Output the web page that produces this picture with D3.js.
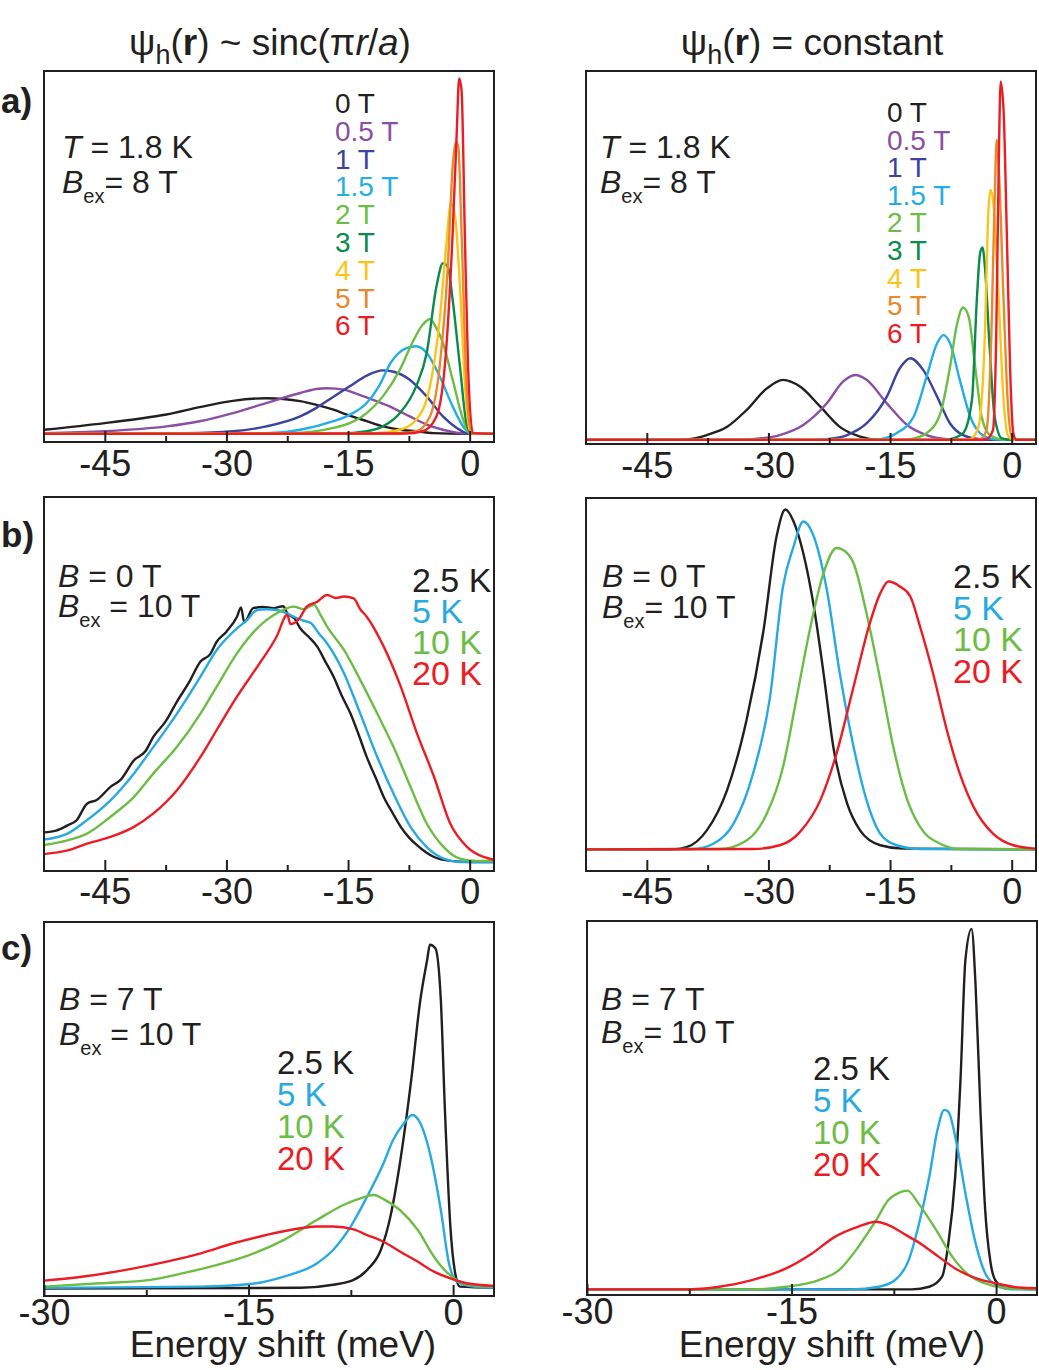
<!DOCTYPE html>
<html>
<head>
<meta charset="utf-8">
<script src="https://cdn.jsdelivr.net/npm/d3@7"></script>
<style>
  body { margin: 0; background: #fff; }
  svg text { font-family: 'Liberation Sans', Arial, Helvetica, sans-serif; fill: #231f20; }
</style>
</head>
<body>
<svg id="fig"></svg>
<script>
// ---- data (energy shift in meV, intensity in % of frame height) ----

// row a: field series 0 .. 6 T
const fieldLabels = ["0 T", "0.5 T", "1 T", "1.5 T", "2 T", "3 T", "4 T", "5 T", "6 T"];
const fieldColors = ["#231f20", "#8b4ea3", "#3a449d", "#23aee6", "#6cbd45", "#0a8a4b", "#fcc515", "#e8892a", "#ed1c24"];

const sincField = [
  [[-52.5,3.3],[-45,5.1],[-41,6.2],[-37.4,7.4],[-33.3,9.4],[-29.2,11.1],[-25.1,11.8],[-23,11.6],[-20.9,11],[-18.9,10],[-16.8,8.7],[-14.8,7.1],[-12.7,5.6],[-10.7,4.2],[-8.6,3.3],[-6.6,2.9],[-4.5,2.4],[-0.4,2.2],[3,2.2]],
  [[-52.5,2.4],[-45,2.9],[-37.4,4.2],[-33.3,5.6],[-29.2,7.8],[-25.1,10.5],[-20.9,13.2],[-18.9,14.3],[-17.6,14.5],[-15.5,14.1],[-13.6,12.7],[-11.5,11],[-9.5,9.2],[-7.4,6.9],[-5.3,4.7],[-3.3,3.3],[-1.2,2.4],[0,2.2],[3,2.2]],
  [[-52.5,2.2],[-35,2.4],[-29.2,2.9],[-25.1,4.2],[-20.9,6.9],[-18.9,9.2],[-16.8,12.2],[-14.8,15],[-12.7,17.9],[-10.7,19.3],[-9.5,19],[-7.4,16.8],[-5.3,12.3],[-3.3,6.9],[-1.6,3.8],[-0.4,2.4],[0.5,2.2],[3,2.2]],
  [[-52.5,2.2],[-25,2.4],[-20.9,3.3],[-16.8,5.6],[-14.8,7.3],[-12.7,10.5],[-11.2,15],[-9.7,21.5],[-7.8,25.3],[-6.6,25.8],[-5.3,24],[-3.7,17.7],[-2.1,9.6],[-0.8,4.2],[0,2.4],[0.6,2.2],[3,2.2]],
  [[-52.5,2.2],[-22,2.4],[-16.8,3.8],[-14.8,5.1],[-12.7,7.8],[-10.7,12.3],[-8.6,19.5],[-7,27.1],[-5.8,31.6],[-4.9,33.1],[-4.1,30.7],[-3.3,26.7],[-2.1,16.8],[-0.8,6],[0,2.4],[0.6,2.2],[3,2.2]],
  [[-52.5,2.2],[-16,2.3],[-12.7,2.9],[-10.7,4.2],[-8.6,7.8],[-6.6,15],[-5.3,24],[-4.1,41.9],[-3.3,48.2],[-2.7,47.3],[-2.1,38.3],[-1.2,20.4],[-0.4,5.1],[0.2,2.4],[3,2.2]],
  [[-52.5,2.2],[-12,2.3],[-8.6,3.3],[-6.6,6],[-4.9,15],[-3.7,32.9],[-2.9,52.7],[-2.3,64.4],[-1.8,60.8],[-1.2,41.9],[-0.6,15.9],[0,3.3],[0.5,2.2],[3,2.2]],
  [[-52.5,2.2],[-9,2.3],[-6.6,2.9],[-4.9,6.9],[-3.7,20.4],[-2.7,47.3],[-2.1,74.2],[-1.7,81],[-1.4,79.6],[-1,56.3],[-0.4,15.9],[0.2,2.4],[3,2.2]],
  [[-52.5,2.2],[-8,2.3],[-5.8,2.9],[-4.1,6.9],[-2.9,24.9],[-2.1,56.3],[-1.6,83.2],[-1.3,98],[-1,94.8],[-0.6,56.3],[-0.2,20.4],[0.4,2.4],[3,2.2]]
];

const constField = [
  [[-52.5,1.1],[-42,1.1],[-40.1,1.25],[-37.6,2.4],[-35.1,4.6],[-32.7,9.1],[-30.2,14.9],[-28.2,17.2],[-26.1,15.4],[-23.6,10],[-21.2,4.6],[-18.7,2],[-16.2,1.1],[3,1.1]],
  [[-52.5,1.1],[-34,1.1],[-31.9,1.3],[-28.6,2.4],[-25.7,5.1],[-22.8,10.9],[-20.8,16.7],[-19.3,18.5],[-17.9,17.2],[-15.4,10.9],[-12.9,5.1],[-10.5,2.4],[-8,1.3],[-6,1.1],[3,1.1]],
  [[-52.5,1.1],[-24,1.1],[-22.8,1.3],[-20.3,2.4],[-17.9,5.5],[-15.4,12.7],[-13.8,20.3],[-12.5,23],[-10.9,19.8],[-9.2,12.7],[-7.6,5.5],[-6,2.4],[-3.9,1.3],[-2,1.1],[3,1.1]],
  [[-52.5,1.1],[-17,1.1],[-16.2,1.3],[-14.2,2.9],[-12.1,7.3],[-10.5,18],[-9.2,27],[-8.4,29.2],[-7.6,27],[-6.4,17.2],[-5.1,7.3],[-3.9,2.9],[-2.3,1.3],[-1,1.1],[3,1.1]],
  [[-52.5,1.1],[-13.5,1.1],[-12.5,1.3],[-10.5,2.9],[-8.8,8.2],[-7.6,20.7],[-6.8,31.5],[-6,36.6],[-5.3,34.1],[-4.5,20.7],[-3.7,7.3],[-2.7,2.4],[-1.4,1.3],[0,1.1],[3,1.1]],
  [[-52.5,1.1],[-8.5,1.1],[-7.6,1.3],[-6,2.9],[-4.9,11.8],[-4.3,38.6],[-3.9,51.1],[-3.6,52.7],[-3.3,47.5],[-2.7,25.2],[-2.1,7.3],[-1.2,1.5],[0,1.1],[3,1.1]],
  [[-52.5,1.1],[-6,1.1],[-5.1,1.3],[-4.1,4.6],[-3.3,29.7],[-2.9,61],[-2.6,68.1],[-2.2,63.5],[-1.6,38.6],[-1,11.8],[-0.4,2],[0.3,1.1],[3,1.1]],
  [[-52.5,1.1],[-4.8,1.1],[-3.9,1.3],[-3.1,3.8],[-2.5,29.7],[-2.1,65.4],[-1.85,81.5],[-1.6,74.4],[-1,38.6],[-0.5,11.8],[0,2],[0.5,1.1],[3,1.1]],
  [[-52.5,1.1],[-4,1.1],[-3.1,1.3],[-2.3,3.8],[-1.9,29.7],[-1.6,74.4],[-1.36,97.1],[-1,89.5],[-0.6,56.5],[-0.2,20.7],[0.2,2.9],[0.6,1.1],[3,1.1]]
];

// rows b, c: temperature series
const tempLabels = ["2.5 K", "5 K", "10 K", "20 K"];
const tempColors = ["#231f20", "#27aae1", "#6cbd45", "#ed1c24"];

const sincZeroB = [
  [[-52.6,10.3],[-51,10.8],[-49.6,12.2],[-48.5,13.5],[-47.2,18],[-46,19],[-44.3,22.5],[-43,24.5],[-41.4,29.6],[-40,32],[-39,35.9],[-37.5,40],[-36.1,45.3],[-34.6,50.5],[-33.2,56],[-32,58],[-31.2,61.3],[-30,64],[-28.7,68],[-28.2,70.5],[-27.8,66.5],[-26.7,70.3],[-25.5,70.6],[-24.2,70.3],[-23,70.8],[-22.5,68.9],[-21.6,67.5],[-20.9,64.9],[-19.8,62.5],[-18.8,60],[-17.8,56],[-16.8,52],[-15.8,47],[-14.7,42.1],[-13.7,36.5],[-12.7,30.5],[-11.6,25],[-10.6,19.8],[-9.5,15.5],[-8.5,11.8],[-7.5,9],[-6.5,6.9],[-5.4,5],[-4.4,3.75],[-2.4,2.7],[0,2.4],[3,2.4]],
  [[-52.6,8.4],[-49.6,10],[-47.2,13.6],[-44.3,18.9],[-41.4,26.1],[-39,33.2],[-36.1,42.1],[-33.2,52],[-31.2,59.1],[-28.7,64.9],[-27.5,67],[-26.2,69.8],[-25,70],[-23.8,69.8],[-22.7,69],[-21.7,68],[-20.6,67],[-19.6,66.3],[-18.6,63.5],[-17.6,60.9],[-15.5,52.9],[-13.5,42.1],[-11.4,30.5],[-9.4,20.7],[-7.3,11.8],[-5.3,6.4],[-3.2,3.3],[-1.2,2.4],[3,2.4]],
  [[-52.6,6.9],[-49.6,8.2],[-47.2,10],[-44.3,14.5],[-41.4,19.8],[-39,26.1],[-36.1,33.2],[-33.2,42.1],[-31.2,49.3],[-28.7,58.2],[-26.2,64.9],[-23.8,68.9],[-21.7,70.7],[-20.5,70],[-19.2,71.2],[-18.4,68.5],[-17.6,65.4],[-15.5,59.1],[-13.5,51.1],[-11.4,42.1],[-9.4,33.2],[-7.3,22.5],[-5.3,12.7],[-3.2,6.4],[-1.2,3.3],[0.9,2.7],[3,2.7]],
  [[-52.6,4.5],[-49.6,5.5],[-47.2,7.3],[-44.3,9.1],[-41.4,11.8],[-39,15.4],[-36.1,21.6],[-33.2,30.5],[-31.2,37.7],[-28.7,46.6],[-26.2,54.6],[-23.8,62.7],[-22.5,68.5],[-22.1,66],[-21,67.5],[-20.1,70.7],[-18.8,72],[-17.6,73.8],[-16.5,73],[-15.5,73.4],[-14.3,72.9],[-13.5,70],[-12.7,68],[-10.6,60],[-8.5,49.3],[-6.5,36.8],[-4.4,25.2],[-2.4,12.7],[-0.3,6.4],[1.7,3.75],[3,3]]
];

const constZeroB = [
  [[-52.5,5.8],[-42,5.8],[-40.1,6.4],[-37.6,10.9],[-35.1,21.7],[-32.7,40.5],[-30.6,64.6],[-29,89.7],[-27.9,96.9],[-26.9,93.7],[-25.7,85.2],[-24.4,70.9],[-23.2,53],[-22,33.3],[-20.3,18.1],[-18.7,10.9],[-16.2,6.9],[-13.4,6],[3,5.8]],
  [[-52.5,5.8],[-39.3,5.9],[-36.8,7.3],[-34.3,12.7],[-31.9,26.1],[-29.8,46.7],[-28.2,76.3],[-26.9,87],[-25.7,93.7],[-24.5,90.2],[-22.8,75.4],[-21.2,53],[-19.5,33.3],[-17.9,19],[-16.2,10],[-14.2,6.9],[-11.3,5.9],[3,5.8]],
  [[-52.5,5.8],[-36,5.9],[-32.7,8.2],[-30.2,15.4],[-28.2,27.9],[-26.5,46.7],[-24.9,64.6],[-23.2,79.9],[-21.6,86.6],[-20.8,86.1],[-19.5,82.5],[-17.9,69.1],[-16.2,51.2],[-14.6,33.3],[-13,19.9],[-11.3,11.8],[-8.8,7.3],[-6.4,5.9],[3,5.8]],
  [[-52.5,5.8],[-31.9,5.9],[-28.6,6.9],[-26.1,10.5],[-23.6,19],[-21.6,31.5],[-19.5,49.4],[-17.5,66.4],[-16.2,74.5],[-15.2,77.6],[-13.8,76.3],[-12.5,73.6],[-11.3,65.5],[-9.7,53],[-8,37.8],[-6.4,26.1],[-4.7,17.2],[-2.3,10],[0.2,6.9],[3,6]]
];

const sincSevenC = [
  [[-30,2],[-11.2,2.2],[-8.8,3],[-7.3,4.3],[-6.3,7],[-5.3,12.3],[-4.6,21.2],[-3.9,35.5],[-3.1,56.9],[-2.4,79.2],[-1.9,89.9],[-1.7,93.9],[-1.3,93],[-0.9,79.2],[-0.6,49.8],[-0.2,18.6],[0.2,5.2],[0.5,2.5],[3,2.2]],
  [[-30,2.2],[-18.5,2.5],[-14.9,3.2],[-12.4,5.2],[-10,8.7],[-8.8,12.3],[-7.5,18.6],[-6.3,26.6],[-5.1,35.5],[-4.4,41.7],[-3.6,46.2],[-3,48.4],[-2.4,46.2],[-1.7,38.2],[-0.9,23],[-0.3,8.7],[0.3,3.8],[1.5,2.5],[3,2.2]],
  [[-30,2.5],[-25.9,3.4],[-22.2,4.3],[-19.8,6.1],[-17.3,8.3],[-14.9,11],[-12.4,15],[-10,20.3],[-8,24.4],[-6.8,26.1],[-5.8,27],[-5.1,25.9],[-3.9,23],[-2.6,17.7],[-1.4,10.5],[-0.4,6.1],[0.5,3.8],[1.8,2.7],[3,2.5]],
  [[-30,4.1],[-27.1,5.2],[-23.4,7.4],[-21,9.2],[-18.5,11.4],[-16.1,14.1],[-13.7,16.3],[-11.2,18.1],[-10,18.6],[-8.8,18.6],[-7.3,17.8],[-6.3,16.3],[-5.1,14.5],[-3.9,11.9],[-2.6,9.2],[-1.4,6.5],[-0.2,4.7],[1,3.4],[3,2.7]]
];

const constSevenC = [
  [[-30,1.5],[-6.2,1.5],[-4.9,2.2],[-3.96,4.9],[-3.5,13.8],[-3,31.6],[-2.6,58.4],[-2.25,89.6],[-1.8,97.9],[-1.5,82.4],[-1.15,49.5],[-0.8,22.7],[-0.4,8.5],[0,3.6],[0.7,1.8],[3,1.5]],
  [[-30,1.5],[-10.6,1.5],[-8.6,2.2],[-7.4,4],[-6.4,9.4],[-5.7,18.3],[-4.9,31.6],[-4.3,44.1],[-3.8,49.5],[-3.5,49],[-2.9,40.6],[-2.25,27.2],[-1.5,13.8],[-0.8,5.8],[0,2.7],[1.2,1.5],[3,1.5]],
  [[-30,1.5],[-17.9,1.5],[-15.4,2.2],[-13,4],[-11.5,6.7],[-10.1,12.9],[-8.8,20],[-7.9,25.4],[-7.1,27.4],[-6.5,27.9],[-5.7,24.5],[-4.4,17.4],[-3.2,10.2],[-2,5.3],[-0.8,3.1],[0.4,2],[3,1.5]],
  [[-30,1.5],[-22.8,1.5],[-20.3,2.2],[-17.9,4],[-15.4,7.1],[-13.5,11.1],[-11.8,15.6],[-10.1,18.3],[-8.8,19.6],[-7.9,18.7],[-6.6,16],[-5.4,13.4],[-4.2,10.2],[-3,7.1],[-1.5,4.5],[0,3.1],[1.7,2],[3,1.8]]
];

const wideTicks = [-45, -30, -15, 0];
const wideMinor = [-37.5, -22.5, -7.5];
const narrowTicks = [-30, -15, 0];
const narrowMinor = [-22.5, -7.5];

// ---- drawing ----
const W = 1039, H = 1370;
const svg = d3.select("#fig").attr("width", W).attr("height", H);
const ink = "#231f20";

const panels = [
  { x0: 44, y0: 71, h: 371, domain: [-52.5, 3], major: wideTicks, minor: wideMinor, pad: 8,
    series: sincField, colors: fieldColors, labels: fieldLabels,
    legend: { x: 335, y: 113, step: 27.8, size: 28 },
    notes: [["T", "", " = 1.8 K", 62, 158], ["B", "ex", "= 8 T", 62, 193]] },
  { x0: 586, y0: 71, h: 373, domain: [-52.5, 3], major: wideTicks, minor: wideMinor, pad: 8,
    series: constField, colors: fieldColors, labels: fieldLabels,
    legend: { x: 887, y: 122, step: 27.6, size: 28 },
    notes: [["T", "", " = 1.8 K", 600, 158], ["B", "ex", "= 8 T", 600, 193]] },
  { x0: 44, y0: 497, h: 374, domain: [-52.5, 3], major: wideTicks, minor: wideMinor, pad: 7,
    series: sincZeroB, colors: tempColors, labels: tempLabels,
    legend: { x: 412, y: 592, step: 31, size: 34 },
    notes: [["B", "", " = 0 T", 58, 587], ["B", "ex", " = 10 T", 58, 617]] },
  { x0: 586, y0: 498, h: 373, domain: [-52.5, 3], major: wideTicks, minor: wideMinor, pad: 7,
    series: constZeroB, colors: tempColors, labels: tempLabels,
    legend: { x: 953, y: 588, step: 31.7, size: 34 },
    notes: [["B", "", " = 0 T", 602, 587], ["B", "ex", "= 10 T", 602, 618]] },
  { x0: 44, y0: 922, h: 374, domain: [-30, 3], major: narrowTicks, minor: narrowMinor, pad: 3,
    series: sincSevenC, colors: tempColors, labels: tempLabels,
    legend: { x: 277, y: 1074, step: 32, size: 33 },
    notes: [["B", "", " = 7 T", 59, 1010], ["B", "ex", " = 10 T", 59, 1045]] },
  { x0: 587, y0: 921, h: 374, domain: [-30, 3], major: narrowTicks, minor: narrowMinor, pad: 3,
    series: constSevenC, colors: tempColors, labels: tempLabels,
    legend: { x: 813, y: 1080, step: 32, size: 33 },
    notes: [["B", "", " = 7 T", 601, 1010], ["B", "ex", "= 10 T", 601, 1043]] }
];

panels.forEach((p, i) => {
  const w = 450;
  const x = d3.scaleLinear().domain(p.domain).range([p.x0, p.x0 + w]);
  const y = d3.scaleLinear().domain([0, 100]).range([p.y0 + p.h, p.y0]);
  const g = svg.append("g");

  g.append("clipPath").attr("id", "clip" + i)
    .append("rect").attr("x", p.x0).attr("y", p.y0).attr("width", w).attr("height", p.h);

  const line = d3.line().x(d => x(d[0])).y(d => y(d[1])).curve(d3.curveMonotoneX);
  g.append("g").attr("clip-path", `url(#clip${i})`)
    .selectAll("path").data(p.series).join("path")
    .attr("d", line)
    .attr("fill", "none")
    .attr("stroke", (d, k) => p.colors[k])
    .attr("stroke-width", 2.4)
    .attr("stroke-linejoin", "round");

  // inward ticks on the bottom frame
  const bottom = p.y0 + p.h;
  g.append("g").attr("transform", `translate(0,${bottom})`)
    .call(d3.axisTop(x).tickValues(p.major).tickSize(11).tickFormat(""))
    .call(a => a.select(".domain").remove())
    .call(a => a.selectAll("line").attr("stroke", ink).attr("stroke-width", 2));
  g.append("g").attr("transform", `translate(0,${bottom})`)
    .call(d3.axisTop(x).tickValues(p.minor).tickSize(6).tickFormat(""))
    .call(a => a.select(".domain").remove())
    .call(a => a.selectAll("line").attr("stroke", ink).attr("stroke-width", 2));
  g.append("g").attr("transform", `translate(0,${bottom})`)
    .call(d3.axisBottom(x).tickValues(p.major).tickSize(0).tickPadding(p.pad).tickFormat(d => String(d)))
    .call(a => a.select(".domain").remove())
    .call(a => a.selectAll("text").attr("font-size", 36).attr("fill", ink)
      .style("font-family", "'Liberation Sans', Arial, sans-serif"));

  g.append("rect").attr("x", p.x0).attr("y", p.y0).attr("width", w).attr("height", p.h)
    .attr("fill", "none").attr("stroke", ink).attr("stroke-width", 2);

  // legend
  g.append("g").selectAll("text").data(p.labels).join("text")
    .attr("x", p.legend.x)
    .attr("y", (d, k) => p.legend.y + k * p.legend.step)
    .attr("font-size", p.legend.size)
    .style("fill", (d, k) => p.colors[k])
    .text(d => d);

  // parameter notes
  p.notes.forEach(([sym, sub, rest, nx, ny]) => {
    const t = g.append("text").attr("x", nx).attr("y", ny).attr("font-size", 32);
    t.append("tspan").attr("font-style", "italic").text(sym);
    if (sub) {
      t.append("tspan").attr("font-size", 20).attr("dy", 10).text(sub);
      t.append("tspan").attr("dy", -10).text(rest);
    } else {
      t.append("tspan").text(rest);
    }
  });
});

// column titles
function title(cx, parts) {
  const t = svg.append("text").attr("x", cx).attr("y", 55).attr("font-size", 37).attr("text-anchor", "middle");
  parts.forEach(([txt, opt]) => {
    const s = t.append("tspan").text(txt);
    if (opt) Object.entries(opt).forEach(([k, v]) => s.attr(k, v));
  });
}
title(270, [["ψ"], ["h", { "font-size": 27, dy: 9 }], ["(", { dy: -9 }], ["r", { "font-weight": "bold" }],
  [") ~ sinc(π"], ["r", { "font-style": "italic" }], ["/"], ["a", { "font-style": "italic" }], [")"]]);
title(812, [["ψ"], ["h", { "font-size": 27, dy: 9 }], ["(", { dy: -9 }], ["r", { "font-weight": "bold" }],
  [") = constant"]]);

// panel letters
[["a)", 113], ["b)", 547], ["c)", 960]].forEach(([s, yy]) =>
  svg.append("text").attr("x", 1).attr("y", yy).attr("font-size", 35).attr("font-weight", "bold").text(s));

// x-axis titles
[283, 832].forEach(cx =>
  svg.append("text").attr("x", cx).attr("y", 1357).attr("font-size", 37).attr("text-anchor", "middle")
    .text("Energy shift (meV)"));
</script>
</body>
</html>
